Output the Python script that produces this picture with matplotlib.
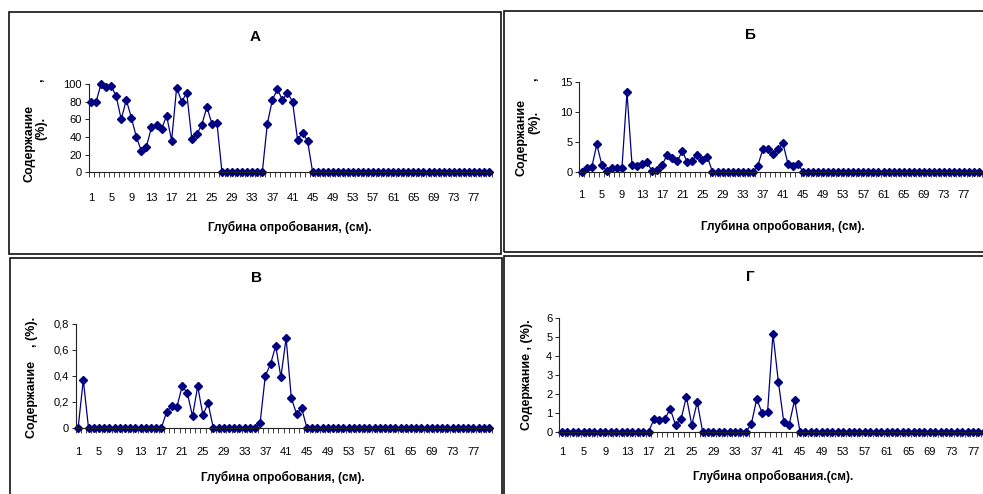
import matplotlib
matplotlib.use("Agg")
import matplotlib.pyplot as plt
from matplotlib.patches import Rectangle
import numpy as np

plt.rcParams['font.family'] = ['Liberation Sans', 'DejaVu Sans']

depth = list(range(1, 81))
depth_labels = [str(d) for d in range(1, 81, 4)]

def pad(vals):
    return vals + [0.0] * (80 - len(vals))

series_a = pad([80, 80, 100, 97, 98, 86, 60, 82, 62, 40, 24, 29, 51, 54, 49, 64, 36, 96, 80, 90,
                38, 43, 54, 74, 55, 56, 0, 0, 0, 0, 0, 0, 0, 0, 0, 55, 82, 94, 82, 90,
                80, 37, 45, 35])
series_b = pad([0, 0.6, 0.8, 4.6, 1.2, 0.1, 0.6, 0.6, 0.7, 13.3, 1.2, 1.0, 1.3, 1.6, 0.1, 0.4,
                1.2, 2.9, 2.3, 1.8, 3.5, 1.6, 1.9, 2.9, 2.0, 2.5, 0, 0, 0, 0, 0, 0, 0, 0, 0,
                1.0, 3.8, 3.8, 3.0, 3.8, 4.8, 1.4, 1.0, 1.4])
series_v = pad([0, 0.37, 0, 0, 0, 0, 0, 0, 0, 0, 0, 0, 0, 0, 0, 0, 0, 0.12, 0.17, 0.16, 0.32, 0.27,
                0.09, 0.32, 0.10, 0.19, 0, 0, 0, 0, 0, 0, 0, 0, 0, 0.04, 0.40, 0.49, 0.63, 0.39,
                0.69, 0.23, 0.11, 0.15])
series_g = pad([0, 0, 0, 0, 0, 0, 0, 0, 0, 0, 0, 0, 0, 0, 0, 0, 0, 0.65, 0.6, 0.65, 1.22, 0.35,
                0.65, 1.85, 0.35, 1.57, 0, 0, 0, 0, 0, 0, 0, 0, 0, 0.4, 1.73, 0.99, 1.02, 5.18,
                2.65, 0.53, 0.37, 1.68])

W, H = 983, 494
fig = plt.figure(figsize=(W / 100, H / 100), dpi=100)

def fx(px):
    return px / W

def fy(py):
    return 1 - py / H

NAVY = '#000080'

def make_panel(vals, left, right, y0, ytop, ymax, yticks, yticklabels, xpad):
    ax = fig.add_axes([fx(left), fy(y0), fx(right - left), (y0 - ytop) / H])
    ax.plot(depth, vals, color=NAVY, lw=0.9, marker='D', markersize=4.0,
            markerfacecolor=NAVY, markeredgecolor=NAVY, clip_on=False)
    ax.set_xlim(0.5, 80.5)
    ax.set_ylim(0, ymax)
    for s in ['top', 'right']:
        ax.spines[s].set_visible(False)
    for s in ['left', 'bottom']:
        ax.spines[s].set_color('#222222')
        ax.spines[s].set_linewidth(0.8)
    ax.set_xticks(list(range(1, 81, 4)))
    ax.set_xticklabels(depth_labels, fontsize=8)
    ax.set_xticks([i + 0.5 for i in range(0, 81)], minor=True)
    ax.tick_params(axis='x', which='major', length=0, pad=xpad)
    ax.tick_params(axis='x', which='minor', length=3.5, width=0.6, direction='out', color='#222222')
    ax.set_yticks(yticks)
    ax.set_yticklabels(yticklabels, fontsize=8)
    ax.tick_params(axis='y', which='major', length=3, width=0.6, direction='out', pad=2)
    return ax

make_panel(series_a, 88.5, 491.5, 172.3, 84.0, 100, [0, 20, 40, 60, 80, 100],
           ['0', '20', '40', '60', '80', '100'], 15)
make_panel(series_b, 579.2, 981.6, 172.0, 82.0, 15, [0, 5, 10, 15],
           ['0', '5', '10', '15'], 13)
make_panel(series_v, 75.5, 491.5, 428.0, 323.7, 0.8, [0, 0.2, 0.4, 0.6, 0.8],
           ['0', '0,2', '0,4', '0,6', '0,8'], 13.7)
make_panel(series_g, 559.3, 992.0, 431.7, 318.3, 6, [0, 1, 2, 3, 4, 5, 6],
           ['0', '1', '2', '3', '4', '5', '6'], 11)

# panel borders
borders = [(9, 12, 501, 253.5), (503.7, 10.7, 990, 252), (10, 258, 501.7, 500), (503.5, 255.7, 990, 500)]
for (l, t, r, b) in borders:
    fig.patches.append(Rectangle((fx(l), fy(b)), fx(r - l), (b - t) / H, transform=fig.transFigure,
                                 fill=False, edgecolor='#111111', lw=1.2))

# titles
tkw = dict(fontsize=11, fontweight='bold', ha='center', va='center')
fig.text(fx(255), fy(37), 'А', **tkw)
fig.text(fx(750), fy(35), 'Б', **tkw)
fig.text(fx(256), fy(278), 'В', **tkw)
fig.text(fx(750), fy(277), 'Г', **tkw)

# x labels
lkw = dict(fontsize=8.5, fontweight='bold', ha='center', va='center')
fig.text(fx(290), fy(227), 'Глубина опробования, (см).', **lkw)
fig.text(fx(783), fy(226), 'Глубина опробования, (см).', **lkw)
fig.text(fx(283), fy(477.7), 'Глубина опробования, (см).', **lkw)
fig.text(fx(773), fy(476.7), 'Глубина опробования.(см).', **lkw)

# y labels
ykw = dict(fontsize=9, fontweight='bold', ha='center', va='center', rotation=90)
fig.text(fx(29), fy(143), 'Содержание', **ykw)
fig.text(fx(41), fy(128), '(%).', **ykw)
fig.text(fx(39), fy(80), ',', **ykw)
fig.text(fx(522), fy(137), 'Содержание', **ykw)
fig.text(fx(534), fy(122), '(%).', **ykw)
fig.text(fx(533), fy(79), ',', **ykw)
fig.text(fx(32), fy(377), 'Содержание    , (%).', **ykw)
fig.text(fx(527), fy(375), 'Содержание , (%).', **ykw)

fig.savefig('out.png', dpi=100)
